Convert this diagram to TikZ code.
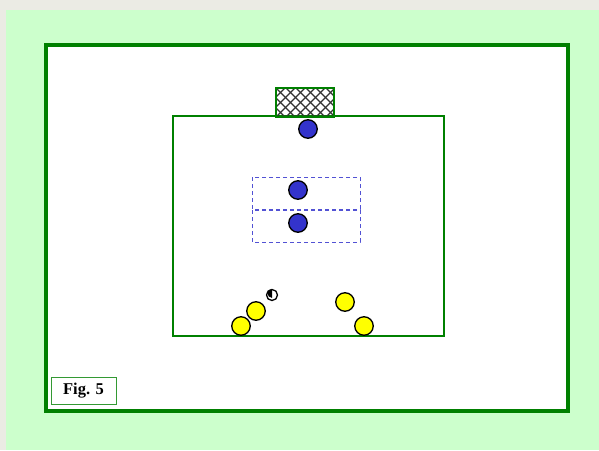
\documentclass[tikz,border=0pt]{standalone}
\usepackage{fontspec}
\setmainfont{Liberation Serif}
\usetikzlibrary{positioning}
\definecolor{pagegreen}{HTML}{CCFFCC}
\definecolor{pagegray}{HTML}{EBEBE4}
\definecolor{linegreen}{HTML}{008000}
\definecolor{teamblue}{HTML}{3333CC}
\definecolor{teamyellow}{HTML}{FFFF00}
\tikzset{
      player/.style={
        circle,
        draw=black,
        line width=1.3pt,
        minimum size=18.5pt,
        inner sep=0pt
      },
      attacker/.style={player, fill=teamyellow},
      defender/.style={player, fill=teamblue},
      zonebox/.style={
        draw=teamblue!85,
        dash pattern=on 4pt off 3pt,
        line width=1pt
      },
      figlabel/.style={
        draw=linegreen!80,
        line width=0.8pt,
        fill=white,
        minimum width=65pt,
        minimum height=27pt,
        font=\bfseries\fontsize{16.5}{19}\selectfont,
        inner sep=0pt
      }
    }
\begin{document}
\begin{tikzpicture}[x=1pt,y=-1pt]
    \useasboundingbox (0,0) rectangle (599,450);
    % page background
    \fill[pagegray] (0,0) rectangle (599,450);
    \fill[pagegreen] (6,10) rectangle (599,450);
    % outer frame
    \draw[linegreen, line width=4pt, fill=white] (46,45) rectangle (568,411);
    % playing area
    \draw[linegreen, line width=1.4pt] (173,116) rectangle (444,336);
    % goal
    \begin{scope}
      \clip (276,88) rectangle (334,117);
      \foreach \k in {-40,-30,...,80} {
        \draw[black!80, line width=1.2pt] (276+\k,88) -- ++(40,40);
        \draw[black!80, line width=1.2pt] (276+\k,117) -- ++(40,-40);
      }
    \end{scope}
    \draw[linegreen, line width=1.4pt] (276,117) rectangle (334,88);
    % zones
    \draw[zonebox] (252,177) rectangle (360,209);
    \draw[zonebox] (252,210) rectangle (360,242);
    % defenders
    \node[defender] (keeper) at (308,129) {};
    \node[defender] (d1) at (298,190) {};
    \node[defender] (d2) at (298,223) {};
    % attackers
    \node[attacker] (a1) at (241,326) {};
    \node[attacker] (a2) at (256,311) {};
    \node[attacker] (a3) at (345,302) {};
    \node[attacker] (a4) at (364,326) {};
    % ball
    \node[circle, draw=black, line width=1.3pt, fill=white, minimum size=11pt, inner sep=0pt] (ball) at (272,295) {};
    \fill[black] (ball.north) arc (90:270:4.5pt) -- cycle;
    % label
    \node[figlabel] (fig) at (83.5,390.5) {Fig. 5};
    \end{tikzpicture}
\end{document}
